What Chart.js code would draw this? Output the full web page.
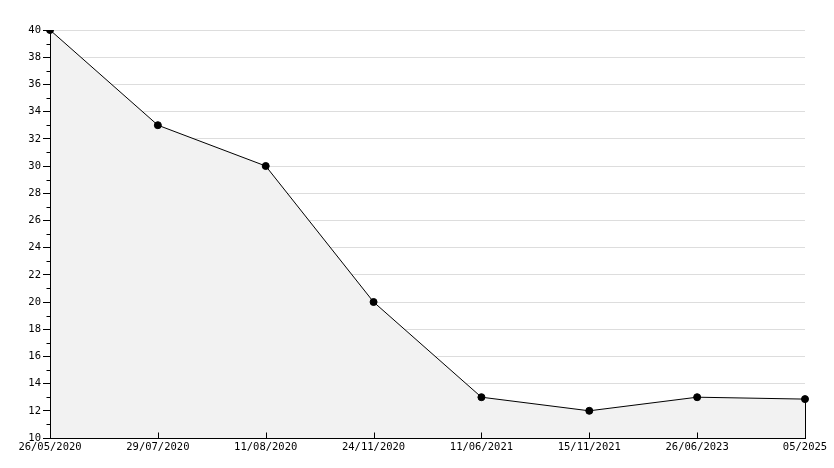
<!DOCTYPE html>
<html>
<head>
<meta charset="utf-8">
<script src="https://cdn.jsdelivr.net/npm/chart.js@4/dist/chart.umd.min.js"></script>
<style>
  html, body { margin: 0; padding: 0; background: #fff; }
  #wrap { width: 834px; height: 468px; }
</style>
</head>
<body>
<div id="wrap"><canvas id="chart" width="834" height="468"></canvas></div>
<script>
const labels = ["26/05/2020", "29/07/2020", "11/08/2020", "24/11/2020", "11/06/2021", "15/11/2021", "26/06/2023", "05/2025"];
const values = [40, 33, 30, 20, 13, 12, 13, 12.86];
const yMin = 10;
const yMax = 40;

// axis lines, minor y ticks, inward x ticks and the right edge of the filled area
const extras = {
    id: "extras",
    afterDatasetsDraw(chart) {
        const ctx = chart.ctx;
        const x = chart.scales.x;
        const y = chart.scales.y;
        const area = chart.chartArea;
        const left = Math.round(area.left) + 0.5;
        const bottom = Math.round(area.bottom) + 0.5;
        ctx.save();
        ctx.strokeStyle = "#000";
        ctx.lineWidth = 1;
        ctx.beginPath();
        ctx.moveTo(left, area.top);
        ctx.lineTo(left, bottom);
        ctx.lineTo(area.right, bottom);
        for (let v = yMin + 1; v < yMax; v += 2) {
            const py = Math.round(y.getPixelForValue(v)) + 0.5;
            ctx.moveTo(left - 4, py);
            ctx.lineTo(left, py);
        }
        for (let i = 1; i < labels.length - 1; i++) {
            const px = Math.round(x.getPixelForValue(i)) + 0.5;
            ctx.moveTo(px, bottom);
            ctx.lineTo(px, bottom - 6);
        }
        const last = labels.length - 1;
        const lx = Math.round(x.getPixelForValue(last)) + 0.5;
        ctx.moveTo(lx, y.getPixelForValue(values[last]));
        ctx.lineTo(lx, bottom);
        ctx.stroke();
        ctx.restore();
    }
};

new Chart(document.getElementById("chart"), {
    type: "line",
    data: {
        labels,
        datasets: [{
            data: values,
            borderColor: "#000",
            borderWidth: 1,
            backgroundColor: "#f2f2f2",
            fill: "origin",
            tension: 0,
            pointRadius: 3.5,
            pointHoverRadius: 3.5,
            pointStyle: "circle",
            pointBackgroundColor: "#000",
            pointBorderColor: "#000"
        }]
    },
    options: {
        responsive: false,
        animation: false,
        layout: { padding: { top: 30, right: 29, left: 0, bottom: 0 } },
        plugins: {
            legend: { display: false },
            tooltip: { enabled: false }
        },
        scales: {
            x: {
                offset: false,
                grid: { display: false, drawTicks: false },
                border: { color: "#000", width: 1 },
                ticks: {
                    color: "#000",
                    font: { family: "DejaVu Sans Mono", size: 10.5 },
                    maxRotation: 0,
                    autoSkip: false,
                    padding: 3
                },
                afterFit(scale) { scale.height = 30; }
            },
            y: {
                min: yMin,
                max: yMax,
                grid: { color: "#dddddd", tickColor: "#000", tickLength: 7 },
                border: { color: "#000", width: 1 },
                ticks: {
                    stepSize: 2,
                    color: "#000",
                    font: { family: "DejaVu Sans Mono", size: 10.5 },
                    padding: 2
                },
                afterFit(scale) { scale.width = 50; }
            }
        }
    },
    plugins: [extras]
});
</script>
</body>
</html>
